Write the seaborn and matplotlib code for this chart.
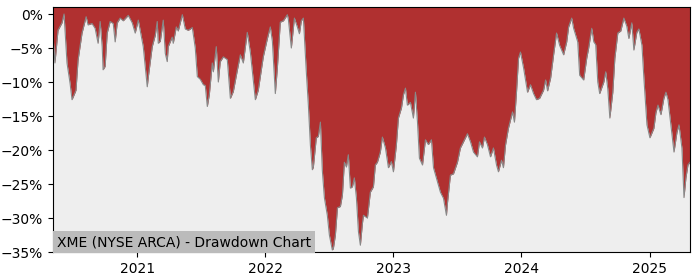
import numpy as np
import pandas as pd
import matplotlib
matplotlib.use("Agg")
import matplotlib.pyplot as plt
import matplotlib.dates as mdates
from matplotlib.ticker import PercentFormatter
import seaborn as sns

title = "XME (NYSE ARCA) - Drawdown Chart"

# time as decimal years
years = [
    2020.344, 2020.359, 2020.383, 2020.414, 2020.430, 2020.453, 2020.477, 2020.492, 2020.508, 2020.523,
    2020.539, 2020.570, 2020.602, 2020.617, 2020.648, 2020.672, 2020.695, 2020.711, 2020.727, 2020.734,
    2020.750, 2020.766, 2020.789, 2020.813, 2020.828, 2020.844, 2020.867, 2020.891, 2020.930, 2020.961,
    2020.984, 2021.008, 2021.047, 2021.078, 2021.086, 2021.117, 2021.141, 2021.156, 2021.164, 2021.180,
    2021.203, 2021.219, 2021.234, 2021.242, 2021.273, 2021.281, 2021.305, 2021.320, 2021.352, 2021.375,
    2021.398, 2021.430, 2021.453, 2021.469, 2021.492, 2021.516, 2021.531, 2021.547, 2021.563, 2021.586,
    2021.594, 2021.617, 2021.633, 2021.648, 2021.672, 2021.703, 2021.727, 2021.750, 2021.781, 2021.805,
    2021.828, 2021.859, 2021.883, 2021.922, 2021.945, 2021.984, 2022.016, 2022.039, 2022.055, 2022.078,
    2022.094, 2022.117, 2022.141, 2022.172, 2022.180, 2022.203, 2022.227, 2022.250, 2022.266, 2022.281,
    2022.297, 2022.320, 2022.336, 2022.352, 2022.367, 2022.375, 2022.398, 2022.414, 2022.430, 2022.445,
    2022.461, 2022.484, 2022.500, 2022.523, 2022.531, 2022.547, 2022.563, 2022.586, 2022.602, 2022.617,
    2022.633, 2022.648, 2022.664, 2022.680, 2022.695, 2022.711, 2022.727, 2022.742, 2022.758, 2022.766,
    2022.797, 2022.820, 2022.844, 2022.859, 2022.875, 2022.898, 2022.914, 2022.938, 2022.961, 2022.984,
    2023.000, 2023.023, 2023.039, 2023.063, 2023.078, 2023.094, 2023.109, 2023.133, 2023.156, 2023.172,
    2023.188, 2023.203, 2023.227, 2023.250, 2023.273, 2023.297, 2023.313, 2023.344, 2023.367, 2023.391,
    2023.414, 2023.422, 2023.445, 2023.469, 2023.500, 2023.523, 2023.547, 2023.578, 2023.602, 2023.625,
    2023.656, 2023.672, 2023.695, 2023.711, 2023.734, 2023.758, 2023.781, 2023.805, 2023.820, 2023.844,
    2023.859, 2023.875, 2023.898, 2023.930, 2023.945, 2023.961, 2023.977, 2023.992, 2024.016, 2024.047,
    2024.070, 2024.094, 2024.117, 2024.141, 2024.172, 2024.188, 2024.203, 2024.227, 2024.250, 2024.273,
    2024.297, 2024.328, 2024.352, 2024.367, 2024.391, 2024.406, 2024.438, 2024.453, 2024.484, 2024.508,
    2024.523, 2024.547, 2024.563, 2024.578, 2024.594, 2024.609, 2024.641, 2024.656, 2024.672, 2024.688,
    2024.711, 2024.727, 2024.750, 2024.773, 2024.797, 2024.820, 2024.836, 2024.859, 2024.875, 2024.898,
    2024.914, 2024.938, 2024.953, 2024.977, 2025.000, 2025.031, 2025.047, 2025.063, 2025.086, 2025.109,
    2025.125, 2025.141, 2025.164, 2025.188, 2025.211, 2025.227, 2025.250, 2025.266, 2025.281, 2025.297,
    2025.313,
]

# drawdown in percent
drawdown = [
    -3.1, -7.2, -2.4, -1.3, 0.0, -7.2, -10.2, -12.6, -11.9, -11.2,
    -6.8, -2.8, -0.4, -1.6, -1.4, -2.1, -4.3, -1.1, -4.8, -8.2,
    -7.7, -2.8, -1.1, -1.4, -4.1, -1.3, -0.6, -1.0, -0.2, -1.3,
    -2.8, -0.9, -4.8, -10.7, -9.3, -4.8, -3.1, -1.1, -4.3, -4.0,
    -0.9, -5.8, -7.0, -4.8, -3.4, -4.3, -1.9, -2.5, -0.1, -2.2,
    -2.4, -2.0, -5.0, -9.2, -9.6, -10.4, -10.5, -13.6, -11.8, -7.2,
    -8.5, -4.8, -10.0, -7.0, -6.3, -6.7, -12.4, -11.4, -8.3, -6.0,
    -7.2, -2.7, -5.6, -12.6, -11.2, -6.3, -3.6, -1.9, -4.0, -11.7,
    -7.9, -1.2, -1.0, -0.1, -0.8, -5.0, -0.6, -1.9, -2.9, -1.0,
    -0.6, -8.5, -13.4, -19.3, -22.9, -22.5, -18.2, -18.0, -15.9, -23.0,
    -27.0, -29.6, -32.5, -34.7, -34.5, -32.5, -28.5, -28.3, -26.6, -21.8,
    -22.5, -20.7, -25.6, -25.4, -24.1, -27.0, -32.0, -34.0, -30.8, -29.6,
    -30.0, -26.2, -25.4, -22.2, -21.8, -20.3, -18.1, -19.7, -22.6, -21.7,
    -23.2, -19.3, -15.3, -13.8, -11.9, -10.9, -13.4, -13.0, -15.3, -11.5,
    -15.9, -21.2, -22.2, -18.5, -19.2, -18.5, -22.6, -24.7, -26.2, -27.1,
    -29.6, -27.8, -23.7, -23.5, -21.8, -19.7, -18.8, -17.6, -18.8, -20.3,
    -21.0, -18.8, -19.7, -18.1, -19.2, -21.0, -19.7, -22.2, -23.2, -21.5,
    -22.6, -19.3, -16.8, -14.4, -15.9, -11.5, -6.5, -5.6, -7.9, -11.5,
    -10.4, -11.7, -12.6, -12.4, -11.2, -9.7, -11.3, -9.4, -6.0, -2.8,
    -4.6, -6.0, -4.1, -1.9, -0.6, -2.1, -4.1, -9.0, -9.7, -6.5,
    -5.0, -2.1, -4.1, -4.5, -10.0, -11.7, -10.0, -8.5, -11.0, -15.3,
    -11.5, -6.5, -2.8, -2.5, -0.6, -1.8, -3.6, -1.3, -5.3, -2.7,
    -2.2, -4.6, -9.4, -16.3, -18.2, -16.8, -14.5, -13.4, -14.8, -12.4,
    -11.5, -12.6, -16.3, -20.3, -17.4, -16.3, -19.7, -27.0, -24.1, -22.2,
    -21.8,
]

y_ticks = [0, -5, -10, -15, -20, -25, -30, -35]

def to_date(y):
    yr = int(np.floor(y))
    start = pd.Timestamp(year=yr, month=1, day=1)
    end = pd.Timestamp(year=yr + 1, month=1, day=1)
    return start + (end - start) * (y - yr)

df = pd.DataFrame({"date": [to_date(y) for y in years], "drawdown": drawdown})

fig = plt.figure(figsize=(7, 2.8), dpi=100)
ax = fig.add_axes([53 / 700, 28 / 280, 637 / 700, 245 / 280])
ax.set_facecolor("#eeeeee")

ax.fill_between(df["date"], df["drawdown"], 5, color="#b03030", linewidth=0)
sns.lineplot(data=df, x="date", y="drawdown", ax=ax, color="#888888", linewidth=0.8)

ax.set_ylim(-35, 1.03)
ax.set_xlim(df["date"].iloc[0], df["date"].iloc[-1])
ax.set_yticks(y_ticks)
ax.yaxis.set_major_formatter(PercentFormatter(xmax=100, decimals=0))
ax.xaxis.set_major_locator(mdates.YearLocator())
ax.xaxis.set_major_formatter(mdates.DateFormatter("%Y"))
ax.set_xlabel("")
ax.set_ylabel("")
ax.tick_params(labelsize=10)

ax.text(0.006, 0.012, title, transform=ax.transAxes, fontsize=10, ha="left", va="bottom",
        bbox=dict(facecolor="#bbbbbb", edgecolor="none", pad=3), zorder=5)

fig.savefig("out.png", dpi=100)
